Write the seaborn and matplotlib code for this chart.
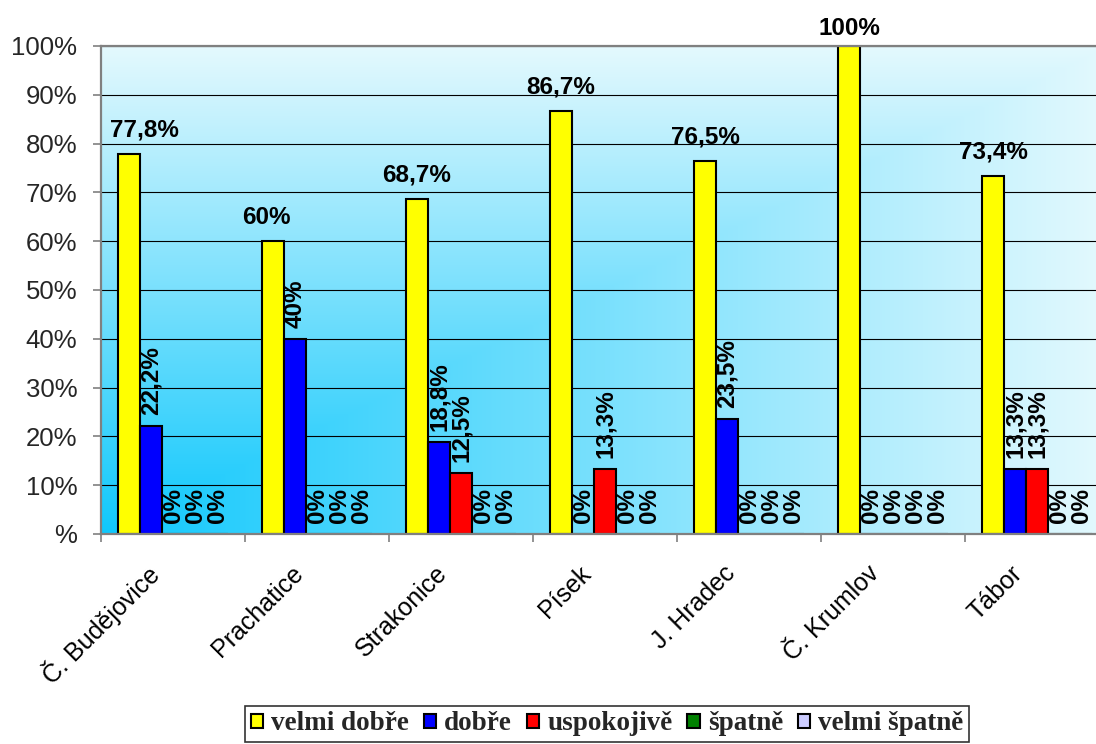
import numpy as np
import pandas as pd
import matplotlib
matplotlib.use("Agg")
import matplotlib.pyplot as plt
import seaborn as sns

# Data: share of ratings per district (percent)
regions = ["Č. Budějovice", "Prachatice", "Strakonice", "Písek",
           "J. Hradec", "Č. Krumlov", "Tábor"]
ratings = ["velmi dobře", "dobře", "uspokojivě", "špatně", "velmi špatně"]
velmi_dobre = [77.8, 60, 68.7, 86.7, 76.5, 100, 73.4]
dobre = [22.2, 40, 18.8, 0, 23.5, 0, 13.3]
uspokojive = [0, 0, 12.5, 13.3, 0, 0, 13.3]
spatne = [0, 0, 0, 0, 0, 0, 0]
velmi_spatne = [0, 0, 0, 0, 0, 0, 0]
y_ticks = [0, 10, 20, 30, 40, 50, 60, 70, 80, 90, 100]
y_tick_labels = ["%", "10%", "20%", "30%", "40%", "50%", "60%", "70%",
                 "80%", "90%", "100%"]
palette = ["#ffff00", "#0000ff", "#ff0000", "#008000", "#ccccff"]

series = [velmi_dobre, dobre, uspokojive, spatne, velmi_spatne]
df = pd.DataFrame({
    "region": [r for _ in ratings for r in regions],
    "rating": [k for k in ratings for _ in regions],
    "value": [v for s in series for v in s],
})

sns.set_theme(style="white")
plt.rcParams["font.family"] = ["Liberation Sans", "DejaVu Sans"]

fig = plt.figure(figsize=(10.96, 7.44), dpi=100)
pos = [0.0922, 0.2823, 0.9197, 0.6559]

# Corner gradient backdrop of the plot area (deep cyan at lower left)
bg = fig.add_axes(pos, zorder=0)
nx, ny = 400, 300
u = np.linspace(0, 1, nx)[None, :]
v = np.linspace(1, 0, ny)[:, None]
t = np.maximum(u, v)
dark = np.array([0x10, 0xc8, 0xfc]) / 255
light = np.array([0xe4, 0xf9, 0xfe]) / 255
img = dark[None, None, :] * (1 - t[..., None]) + light[None, None, :] * t[..., None]
bg.imshow(img, aspect="auto", extent=[0, 1, 0, 1], interpolation="bilinear")
bg.set_axis_off()

ax = fig.add_axes(pos, zorder=1)
ax.patch.set_alpha(0)

sns.barplot(data=df, x="region", y="value", hue="rating", hue_order=ratings,
            order=regions, palette=palette, saturation=1, width=0.764,
            edgecolor="black", linewidth=1.5, ax=ax, errorbar=None)

ax.set_xlim(-0.5, 6.5)
ax.set_ylim(0, 100)
ax.set_yticks(y_ticks)
ax.set_yticklabels(y_tick_labels, fontsize=18.5)
ax.yaxis.grid(True, color="black", linewidth=0.8)
ax.set_axisbelow(True)
ax.set_xlabel("")
ax.set_ylabel("")

# Category names, slanted, hanging below each group
ax.set_xticks(range(len(regions)))
ax.set_xticklabels([])
for i, name in enumerate(regions):
    ax.annotate(name, xy=(i, 0), xycoords=("data", "axes fraction"),
                xytext=(-18, -36), textcoords="offset pixels",
                rotation=45, rotation_mode="anchor", ha="right", va="center",
                fontsize=18, color="black", annotation_clip=False)
ax.set_xticks(np.arange(-0.5, len(regions)), minor=True)
ax.tick_params(axis="x", which="major", length=0)
ax.tick_params(axis="x", which="minor", length=6, width=1.2, color="#808080",
               direction="out", bottom=True)
ax.tick_params(axis="y", length=6, width=1.2, color="#808080", pad=11,
               direction="out", left=True)

for side in ["left", "bottom", "top"]:
    ax.spines[side].set_visible(True)
    ax.spines[side].set_color("#808080")
    ax.spines[side].set_linewidth(1.6)
ax.spines["right"].set_visible(False)


def pct(val):
    return f"{val:g}".replace(".", ",") + "%"


# Value labels: horizontal above the first series, vertical for the rest
nudge_x = {0: 11, 1: -5}
nudge_y = {5: 4}
for k, container in enumerate(ax.containers):
    for i, bar in enumerate(container.patches):
        x = bar.get_x() + bar.get_width() / 2
        h = bar.get_height()
        if k == 0:
            ax.annotate(pct(h), (x, h),
                        xytext=(nudge_x.get(i, 0), nudge_y.get(i, 9)),
                        textcoords="offset points", ha="center", va="bottom",
                        fontsize=17.5, fontweight="bold", color="black",
                        annotation_clip=False)
        else:
            ax.annotate(pct(h), (x, h), xytext=(0, 8),
                        textcoords="offset points", ha="center", va="bottom",
                        rotation=90, fontsize=17.5, fontweight="bold",
                        color="black")

handles, labels = ax.get_legend_handles_labels()
if ax.get_legend() is not None:
    ax.get_legend().remove()
leg = fig.legend(handles, labels, loc="upper center",
                 bbox_to_anchor=(0.554, 0.051), ncol=5, frameon=True,
                 prop={"family": "Liberation Serif", "weight": "bold",
                       "size": 19.5},
                 handlelength=0.45, handleheight=0.45, handletextpad=0.3,
                 columnspacing=0.55, borderpad=0.2, borderaxespad=0,
                 fancybox=False)
leg.get_frame().set_edgecolor("black")
leg.get_frame().set_linewidth(1.2)

fig.savefig("out.png", dpi=100)
